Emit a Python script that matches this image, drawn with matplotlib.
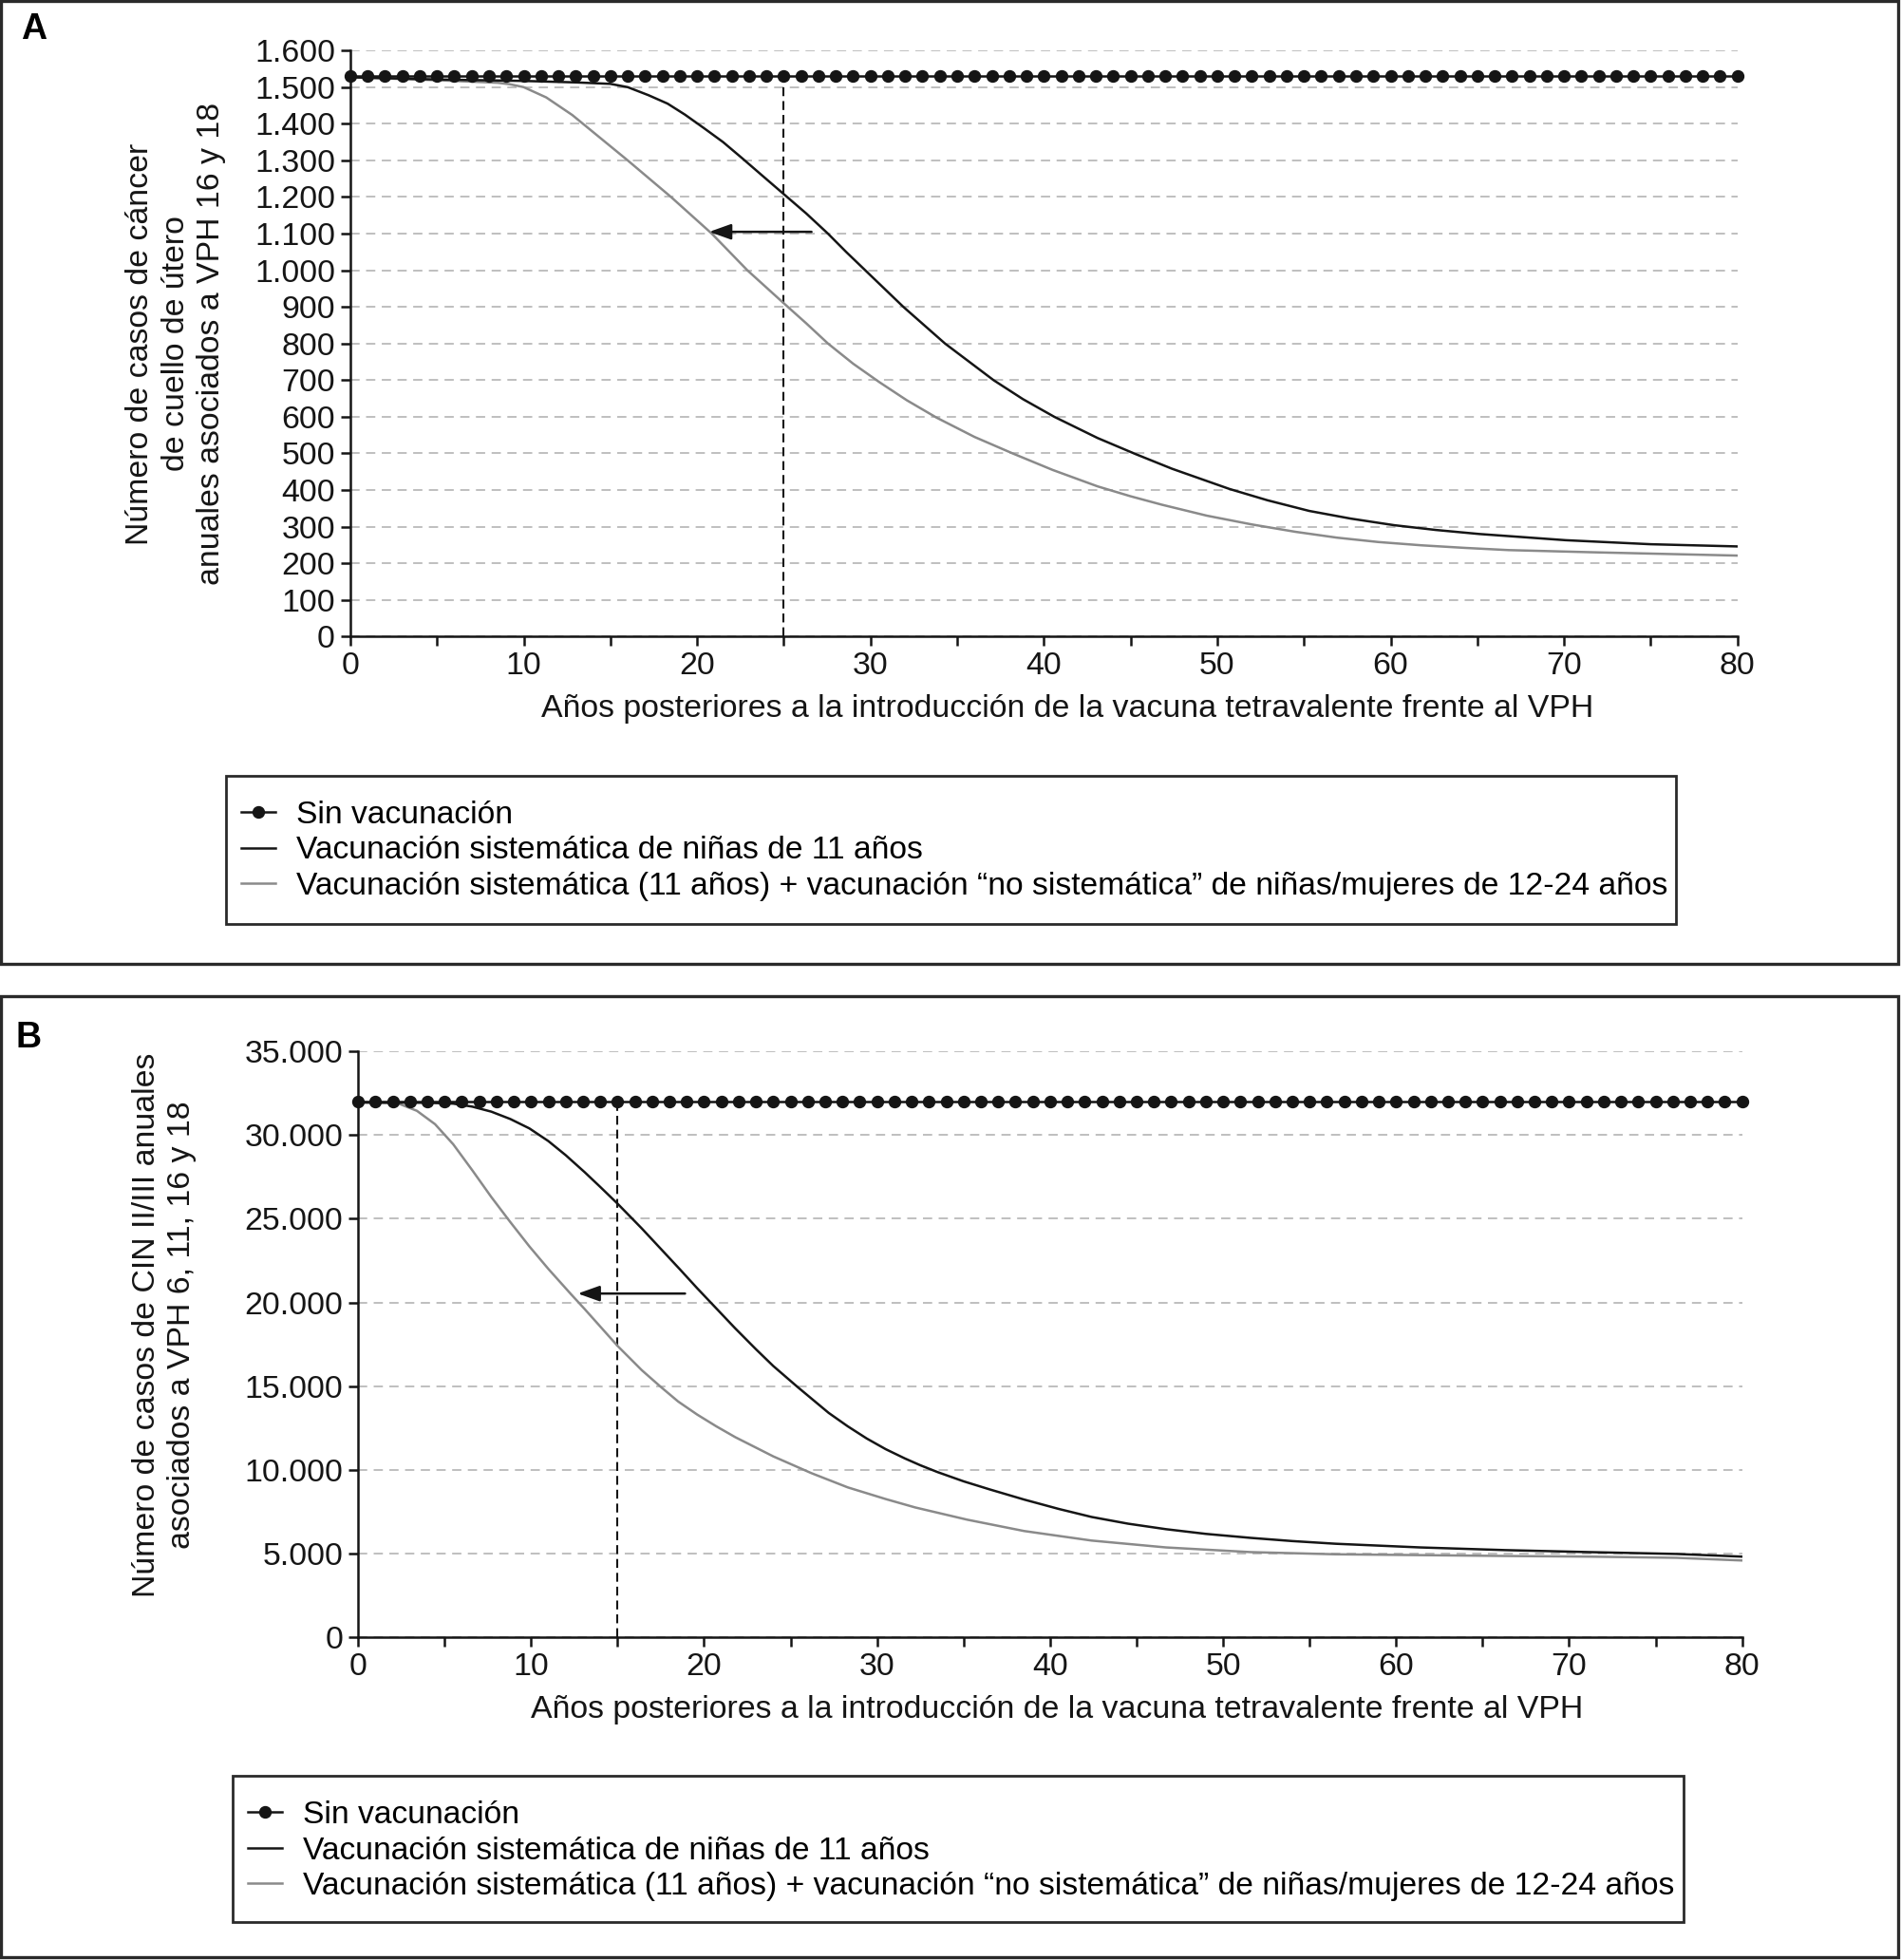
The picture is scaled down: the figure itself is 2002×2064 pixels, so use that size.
import numpy as np
import matplotlib.pyplot as plt
from matplotlib.lines import Line2D
from matplotlib.patches import Rectangle
from matplotlib.ticker import FuncFormatter

plt.rcParams['font.family'] = ['Liberation Sans', 'DejaVu Sans']

# ---- datos ----
anios = list(range(0, 81))

# Panel A: cancer de cuello de utero (VPH 16 y 18)
sin_vac_a = [1530] * len(anios)
sist_a_x = [0, 5, 10, 13, 15, 16, 17.2, 18.3, 19.3, 20.4, 21.5, 22.6, 23.7, 25,
            26.3, 27.55, 28.6, 29.7, 30.8, 31.9, 33.1, 34.3, 35.7, 37.1, 38.8,
            40.6, 43.1, 45.3, 47.4, 50.7, 52.9, 55.3, 57.7, 60.2, 62.6, 65.1,
            70.1, 75, 80]
sist_a_y = [1527, 1521, 1517, 1513, 1509, 1500, 1478, 1455, 1425, 1388, 1350,
            1306, 1261, 1208, 1155, 1100, 1050, 1000, 950, 900, 850, 800, 750,
            700, 648, 600, 542, 498, 458, 403, 372, 343, 322, 304, 291, 280, 263,
            252, 246]
ext_a_x = [0, 5, 8.5, 9.2, 10, 11.3, 12.8, 14.4, 16, 18.5, 20.85, 22.9, 25, 26.3,
           27.55, 29, 30.5, 32.1, 33.8, 36, 38.2, 40.5, 43.1, 45, 46.8, 49.4, 52,
           54.5, 56.9, 59.3, 61.8, 64.3, 66.8, 71.7, 80]
ext_a_y = [1527, 1519, 1512, 1508, 1500, 1472, 1424, 1362, 1300, 1200, 1100, 1000,
           910, 855, 800, 745, 695, 645, 598, 545, 500, 455, 410, 383, 360, 330,
           306, 286, 270, 258, 249, 242, 236, 230, 221]
corte_a = 25
flecha_a = (26.6, 20.7, 1105)   # x inicio, x fin, y

# Panel B: CIN II/III (VPH 6, 11, 16 y 18)
sin_vac_b = [32000] * len(anios)
sist_b_x = [0, 4, 5.5, 6.6, 7.7, 8.8, 9.9, 11, 12, 13.1, 14, 15, 16.4, 17.5,
            18.6, 19.6, 21.8, 23, 24, 25.4, 27.2, 28.3, 29.4, 30.5, 31.6, 32.5,
            33.5, 35, 36.5, 38.5, 40.5, 42.4, 44.5, 46.7, 49, 51.6, 54, 56.5,
            61.4, 66.3, 71.2, 76.2, 80]
sist_b_y = [31950, 31930, 31880, 31700, 31400, 30960, 30400, 29640, 28800, 27780,
            26900, 25900, 24420, 23200, 21980, 20850, 18450, 17200, 16200, 14950,
            13400, 12600, 11870, 11230, 10680, 10270, 9860, 9310, 8830, 8220, 7660,
            7180, 6780, 6450, 6170, 5930, 5740, 5580, 5360, 5200, 5080, 4970, 4810]
ext_b_x = [0, 2.3, 3.4, 4.45, 5.5, 6.6, 7.7, 8.8, 9.9, 11, 12.3, 13.1, 15, 16.4,
           17.5, 18.5, 19.6, 20.7, 21.8, 24, 26.2, 28.3, 30.5, 32.2, 35.2, 38.5,
           42.4, 46.7, 51.6, 56.5, 61.4, 66.3, 71.2, 76.2, 80]
ext_b_y = [31950, 31900, 31450, 30650, 29450, 27900, 26300, 24800, 23350, 22000,
           20500, 19600, 17400, 15950, 14950, 14080, 13300, 12600, 11950, 10800,
           9800, 8950, 8250, 7750, 7020, 6340, 5770, 5360, 5080, 4950, 4900, 4850,
           4810, 4740, 4580]
corte_b = 15
flecha_b = (18.9, 12.7, 20530)

etiquetas = ["Sin vacunación",
             "Vacunación sistemática de niñas de 11 años",
             "Vacunación sistemática (11 años) + vacunación \u201cno sistemática\u201d "
             "de niñas/mujeres de 12-24 años"]
xlabel = "Años posteriores a la introducción de la vacuna tetravalente frente al VPH"
ylabel_a = "Número de casos de cáncer\nde cuello de útero\nanuales asociados a VPH 16 y 18"
ylabel_b = "Número de casos de CIN II/III anuales\nasociados a VPH 6, 11, 16 y 18"

NEGRO = '#151515'
GRIS = '#8a8a8a'
FS = 24.4
FS_LEY = 24.2

W, H = 2002, 2064
fig = plt.figure(figsize=(W / 100, H / 100), dpi=100)


def fx(px):
    return px / W


def fy(py):
    return 1 - py / H


def caja(x0, y0, x1, y1, lw=2.2):
    fig.patches.append(Rectangle((fx(x0), fy(y1)), fx(x1) - fx(x0), fy(y0) - fy(y1),
                                 transform=fig.transFigure, fill=False,
                                 ec='#2a2a2a', lw=lw))


miles = FuncFormatter(lambda v, p: f"{int(v):,}".replace(",", "."))


def panel(rect, ymax, ystep, sin_vac, sist_x, sist_y, ext_x, ext_y, corte, flecha):
    ax = fig.add_axes(rect)
    ax.set_xlim(0, 80)
    ax.set_ylim(0, ymax)
    ax.set_yticks(np.arange(0, ymax + 1, ystep))
    ax.yaxis.set_major_formatter(miles)
    xt = list(range(0, 81, 5))
    ax.set_xticks(xt)
    ax.set_xticklabels([str(t) if t % 10 == 0 else '' for t in xt])
    for s in ['top', 'right']:
        ax.spines[s].set_visible(False)
    for s in ['left', 'bottom']:
        ax.spines[s].set_linewidth(1.8)
        ax.spines[s].set_color(NEGRO)
    ax.tick_params(direction='out', length=7.5, width=1.8, color=NEGRO,
                   labelsize=FS, pad=4, labelcolor=NEGRO)
    ax.grid(axis='y', color='#bfbfbf', lw=1.4, ls=(0, (5, 3.5)), zorder=0)
    ax.set_axisbelow(True)

    ax.vlines(corte, 0, sin_vac[0], color=NEGRO, lw=1.5, ls=(0, (4.5, 2.5)), zorder=2)
    ax.plot(ext_x, ext_y, color=GRIS, lw=1.8, zorder=3)
    ax.plot(sist_x, sist_y, color=NEGRO, lw=1.8, zorder=3)
    ax.plot(anios, sin_vac, color=NEGRO, lw=1.8, marker='o', ms=8.6,
            clip_on=False, zorder=5)
    ax.annotate('', xy=(flecha[1], flecha[2]), xytext=(flecha[0], flecha[2]),
                arrowprops=dict(arrowstyle='-|>,head_length=1.4,head_width=0.5',
                                color=NEGRO, lw=1.8, shrinkA=0, shrinkB=0),
                zorder=6)
    return ax


# marcos de los paneles
caja(1, 1, 1999, 1015, lw=2.4)
caja(1, 1049, 1999, 2061, lw=2.4)

axA = panel([0.18427, 0.67524, 0.72967, 0.29898], 1600, 100, sin_vac_a,
            sist_a_x, sist_a_y, ext_a_x, ext_a_y, corte_a, flecha_a)
axB = panel([0.18836, 0.16473, 0.72807, 0.29884], 35000, 5000, sin_vac_b,
            sist_b_x, sist_b_y, ext_b_x, ext_b_y, corte_b, flecha_b)

# letras de panel
fig.text(fx(36), fy(31), 'A', fontsize=27, fontweight='bold', ha='center', va='center')
fig.text(fx(30), fy(1093), 'B', fontsize=27, fontweight='bold', ha='center', va='center')

# titulos de ejes
fig.text(fx(185), fy(362), ylabel_a, rotation=90, ha='center', va='center',
         multialignment='center', fontsize=FS, color=NEGRO, linespacing=1.25)
fig.text(fx(173), fy(1395), ylabel_b, rotation=90, ha='center', va='center',
         multialignment='center', fontsize=FS, color=NEGRO, linespacing=1.25)
fig.text(fx(1124), fy(747), xlabel, ha='center', va='center', fontsize=FS, color=NEGRO)
fig.text(fx(1113), fy(1800), xlabel, ha='center', va='center', fontsize=FS, color=NEGRO)


# leyendas
def leyenda(x_handle, y_centro):
    hs = [Line2D([], [], color=NEGRO, lw=1.8, marker='o', ms=8.6),
          Line2D([], [], color=NEGRO, lw=1.8),
          Line2D([], [], color=GRIS, lw=1.8)]
    fig.legend(hs, etiquetas, loc='center left', bbox_to_anchor=(fx(x_handle), fy(y_centro)),
               bbox_transform=fig.transFigure, frameon=False, fontsize=FS_LEY,
               handlelength=1.07, handletextpad=0.65, labelspacing=0.2,
               borderpad=0, borderaxespad=0)


leyenda(254, 896)
caja(238, 817, 1765, 973, lw=2.0)
leyenda(261, 1949)
caja(245, 1870, 1773, 2024, lw=2.0)

fig.savefig('out.png', dpi=100, facecolor='white')
